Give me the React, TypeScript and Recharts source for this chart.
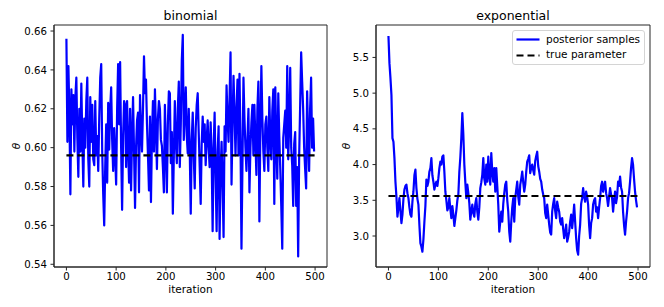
import React from 'react';
import { LineChart, Line, XAxis, YAxis, ReferenceArea } from 'recharts';

// posterior samples, read every 2nd iteration
const binomialSamples = [
  0.656, 0.603, 0.642, 0.618, 0.576, 0.630, 0.612, 0.627, 0.598, 0.626,
  0.636, 0.605, 0.585, 0.620, 0.598, 0.633, 0.604, 0.580, 0.615, 0.600,
  0.624, 0.636, 0.594, 0.580, 0.626, 0.603, 0.622, 0.594, 0.591, 0.624,
  0.596, 0.606, 0.588, 0.615, 0.636, 0.643, 0.598, 0.576, 0.560, 0.590,
  0.612, 0.582, 0.623, 0.599, 0.620, 0.631, 0.604, 0.588, 0.610, 0.596,
  0.581, 0.620, 0.643, 0.612, 0.644, 0.600, 0.568, 0.606, 0.624, 0.622,
  0.590, 0.624, 0.600, 0.582, 0.620, 0.578, 0.605, 0.626, 0.598, 0.569,
  0.600, 0.614, 0.618, 0.577, 0.627, 0.610, 0.598, 0.620, 0.647, 0.628,
  0.635, 0.612, 0.596, 0.578, 0.616, 0.572, 0.606, 0.624, 0.598, 0.630,
  0.610, 0.589, 0.615, 0.624, 0.620, 0.604, 0.601, 0.590, 0.577, 0.622,
  0.600, 0.577, 0.612, 0.629, 0.628, 0.592, 0.608, 0.566, 0.596, 0.624,
  0.603, 0.592, 0.620, 0.634, 0.590, 0.612, 0.645, 0.658, 0.604, 0.618,
  0.631, 0.606, 0.597, 0.620, 0.598, 0.566, 0.604, 0.618, 0.596, 0.579,
  0.610, 0.622, 0.628, 0.608, 0.590, 0.571, 0.602, 0.616, 0.603, 0.612,
  0.591, 0.604, 0.614, 0.600, 0.590, 0.613, 0.596, 0.557, 0.600, 0.618,
  0.585, 0.557, 0.598, 0.611, 0.553, 0.588, 0.603, 0.580, 0.554, 0.611,
  0.598, 0.632, 0.615, 0.603, 0.625, 0.649, 0.581, 0.612, 0.637, 0.618,
  0.596, 0.620, 0.635, 0.596, 0.638, 0.605, 0.548, 0.592, 0.636, 0.615,
  0.600, 0.588, 0.604, 0.620, 0.577, 0.600, 0.613, 0.622, 0.596, 0.622,
  0.604, 0.586, 0.620, 0.634, 0.562, 0.610, 0.642, 0.615, 0.598, 0.588,
  0.612, 0.616, 0.600, 0.588, 0.626, 0.605, 0.594, 0.619, 0.630, 0.571,
  0.631, 0.603, 0.584, 0.628, 0.606, 0.589, 0.570, 0.548, 0.605, 0.612,
  0.619, 0.600, 0.642, 0.594, 0.612, 0.641, 0.600, 0.591, 0.570, 0.602,
  0.608, 0.570, 0.590, 0.544, 0.596, 0.622, 0.649, 0.634, 0.620, 0.600,
  0.589, 0.579, 0.629, 0.606, 0.588, 0.620, 0.636, 0.600, 0.615, 0.598,
];

const exponentialSamples = [
  5.80, 5.42, 5.21, 4.97, 4.37, 4.32, 4.09, 3.76, 3.55, 3.27,
  3.40, 3.53, 3.35, 3.18, 3.30, 3.52, 3.65, 3.70, 3.72, 3.60,
  3.53, 3.40, 3.30, 3.27, 3.48, 3.62, 3.85, 3.93, 3.67, 3.52,
  3.44, 3.15, 2.90, 2.85, 2.78, 2.95, 3.20, 3.42, 3.79, 3.70,
  3.76, 3.90, 3.95, 4.09, 3.85, 3.76, 3.65, 3.72, 3.76, 3.70,
  3.81, 3.95, 4.04, 4.00, 4.11, 4.13, 3.90, 3.62, 3.50, 3.36,
  3.40, 3.53, 3.38, 3.25, 3.42, 3.30, 3.14, 3.25, 3.36, 3.50,
  3.58, 3.90, 4.10, 4.37, 4.72, 4.42, 4.00, 3.75, 3.53, 3.72,
  3.60, 3.46, 3.23, 3.35, 3.44, 3.32, 3.27, 3.45, 3.53, 3.34,
  3.23, 3.40, 3.67, 3.75, 3.86, 4.09, 3.80, 3.72, 4.00, 3.76,
  4.11, 3.85, 3.72, 4.16, 3.90, 3.76, 3.95, 3.62, 3.95, 3.70,
  3.44, 3.06, 3.20, 3.34, 3.20, 3.45, 3.60, 3.72, 3.76, 3.50,
  3.34, 3.06, 2.92, 3.20, 3.40, 3.53, 3.20, 3.53, 3.65, 3.76,
  3.55, 3.44, 3.72, 3.80, 3.90, 3.75, 3.62, 3.72, 3.90, 4.04,
  4.08, 4.13, 3.88, 3.95, 4.00, 3.92, 3.86, 4.05, 4.12, 4.18,
  3.98, 3.90, 3.80, 3.76, 3.65, 3.58, 3.53, 3.32, 3.25, 3.44,
  3.30, 3.16, 3.05, 3.02, 3.34, 3.45, 3.53, 3.35, 3.25, 3.48,
  3.40, 3.34, 3.20, 3.16, 3.25, 3.10, 2.97, 3.05, 3.16, 2.92,
  2.98, 3.06, 3.20, 3.30, 3.11, 3.25, 3.44, 3.20, 2.97, 2.80,
  2.74, 3.00, 3.16, 3.45, 3.53, 3.67, 3.55, 3.48, 3.62, 3.55,
  3.44, 3.15, 2.97, 3.18, 3.25, 3.44, 3.50, 3.53, 3.34, 3.40,
  3.25, 3.40, 3.53, 3.70, 3.76, 3.62, 3.70, 3.76, 3.60, 3.53,
  3.42, 3.55, 3.67, 3.58, 3.53, 3.34, 3.50, 3.62, 3.46, 3.55,
  3.76, 3.70, 3.83, 3.68, 3.62, 3.34, 3.15, 3.02, 3.20, 3.34,
  3.53, 3.60, 3.76, 3.95, 4.09, 4.00, 3.80, 3.62, 3.50, 3.40,
];

const sampleStep = 2;
const lastIteration = 499;
const binomialTrue = 0.596;
const exponentialTrue = 3.56;

const iterationTicks = [0, 100, 200, 300, 400, 500];
const binomialTicks = [0.54, 0.56, 0.58, 0.6, 0.62, 0.64, 0.66];
const exponentialTicks = [3.0, 3.5, 4.0, 4.5, 5.0, 5.5];

const FONT = '"DejaVu Sans", sans-serif';
const BLUE = '#0000ff';
const INK = '#000000';
const FRAME = '#262626';

const toRows = (samples: number[]) =>
  samples.map((v, i) => ({ iter: i * sampleStep, theta: v }));

const trueRows = (value: number) => [
  { iter: 0, theta: value },
  { iter: lastIteration, theta: value },
];

const LegendBox = ({ left, top }: { left: number; top: number }) => (
  <div
    style={{
      position: 'absolute',
      left,
      top,
      boxSizing: 'border-box',
      width: 133,
      height: 35,
      border: '1px solid #d4d4d4',
      borderRadius: 3,
      background: 'rgba(255,255,255,0.85)',
      padding: '1px 0 0 3px',
      fontFamily: FONT,
      fontSize: 10.5,
      color: INK,
      lineHeight: '15.4px',
    }}
  >
    <div style={{ display: 'flex', alignItems: 'center', height: 15.4 }}>
      <svg width={30} height={15} style={{ display: 'block' }}>
        <line x1={0.5} x2={23.5} y1={7.5} y2={7.5} stroke={BLUE} strokeWidth={2.2} />
      </svg>
      <span>posterior samples</span>
    </div>
    <div style={{ display: 'flex', alignItems: 'center', height: 15.4 }}>
      <svg width={30} height={15} style={{ display: 'block' }}>
        <line x1={0.5} x2={23.5} y1={7.5} y2={7.5} stroke={INK} strokeWidth={2.2} strokeDasharray="7 4" />
      </svg>
      <span>true parameter</span>
    </div>
  </div>
);

interface TraceProps {
  title: string;
  samples: number[];
  trueValue: number;
  yDomain: [number, number];
  yTicks: number[];
  yDigits: number;
  yAxisWidth: number;
  left: number;
  width: number;
  marginRight: number;
  showLegend?: boolean;
}

const TracePlot: React.FC<TraceProps> = ({
  title, samples, trueValue, yDomain, yTicks, yDigits, yAxisWidth, left, width, marginRight, showLegend,
}) => {
  const plotLeft = yAxisWidth;
  const plotRight = width - marginRight;
  const centerX = (plotLeft + plotRight) / 2;
  const tickStyle = { fontSize: 10.2, fill: INK, fontFamily: FONT };
  const xDomain: [number, number] = [-24.95, 523.95];
  return (
    <div style={{ position: 'absolute', left, top: 0, width, height: 307 }}>
      <LineChart
        width={width}
        height={307}
        data={toRows(samples)}
        margin={{ top: 25, right: marginRight, bottom: 0, left: 0 }}
      >
        <XAxis
          type="number"
          dataKey="iter"
          domain={xDomain}
          ticks={iterationTicks}
          allowDataOverflow
          height={40}
          tick={tickStyle}
          tickSize={3.5}
          tickMargin={2}
          tickLine={{ stroke: FRAME }}
          axisLine={{ stroke: FRAME }}
        />
        <YAxis
          type="number"
          domain={yDomain}
          ticks={yTicks}
          allowDataOverflow
          width={yAxisWidth}
          tick={tickStyle}
          tickSize={3.5}
          tickMargin={3.5}
          tickLine={{ stroke: FRAME }}
          axisLine={{ stroke: FRAME }}
          tickFormatter={(v: number) => v.toFixed(yDigits)}
        />
        <Line
          type="linear"
          dataKey="theta"
          stroke={BLUE}
          strokeWidth={2.2}
          strokeLinejoin="round"
          dot={false}
          activeDot={false}
          isAnimationActive={false}
        />
        <Line
          type="linear"
          data={trueRows(trueValue)}
          dataKey="theta"
          stroke={INK}
          strokeWidth={2.2}
          strokeDasharray="7 4"
          dot={false}
          activeDot={false}
          isAnimationActive={false}
        />
        {/* matplotlib-style frame round the axes */}
        <ReferenceArea
          x1={xDomain[0]}
          x2={xDomain[1]}
          y1={yDomain[0]}
          y2={yDomain[1]}
          fill="none"
          stroke={FRAME}
          strokeWidth={1}
          ifOverflow="visible"
        />
      </LineChart>
      {showLegend && <LegendBox left={182} top={30} />}
      <div
        style={{
          position: 'absolute', left: centerX - 80, width: 160, top: 7, textAlign: 'center',
          fontFamily: FONT, fontSize: 12.5, color: INK, lineHeight: '18px',
        }}
      >
        {title}
      </div>
      <div
        style={{
          position: 'absolute', left: centerX - 60, width: 120, top: 281, textAlign: 'center',
          fontFamily: FONT, fontSize: 10.5, color: INK, lineHeight: '16px',
        }}
      >
        iteration
      </div>
      <div
        style={{
          position: 'absolute', left: 8, top: 138, width: 16, height: 16,
          textAlign: 'center', fontFamily: FONT, fontSize: 10.5, fontStyle: 'italic', color: INK,
          lineHeight: '16px', transform: 'rotate(-90deg)',
        }}
      >
        θ
      </div>
    </div>
  );
};

export default function App() {
  return (
    <div style={{ position: 'absolute', left: 0, top: 0, width: 664, height: 307, background: '#fff' }}>
      <TracePlot
        title="binomial"
        samples={binomialSamples}
        trueValue={binomialTrue}
        yDomain={[0.5386, 0.6631]}
        yTicks={binomialTicks}
        yDigits={2}
        yAxisWidth={54}
        left={0}
        width={335}
        marginRight={8}
      />
      <TracePlot
        title="exponential"
        samples={exponentialSamples}
        trueValue={exponentialTrue}
        yDomain={[2.566, 5.954]}
        yTicks={exponentialTicks}
        yDigits={1}
        yAxisWidth={46}
        left={330}
        width={330}
        marginRight={10}
        showLegend
      />
    </div>
  );
}
